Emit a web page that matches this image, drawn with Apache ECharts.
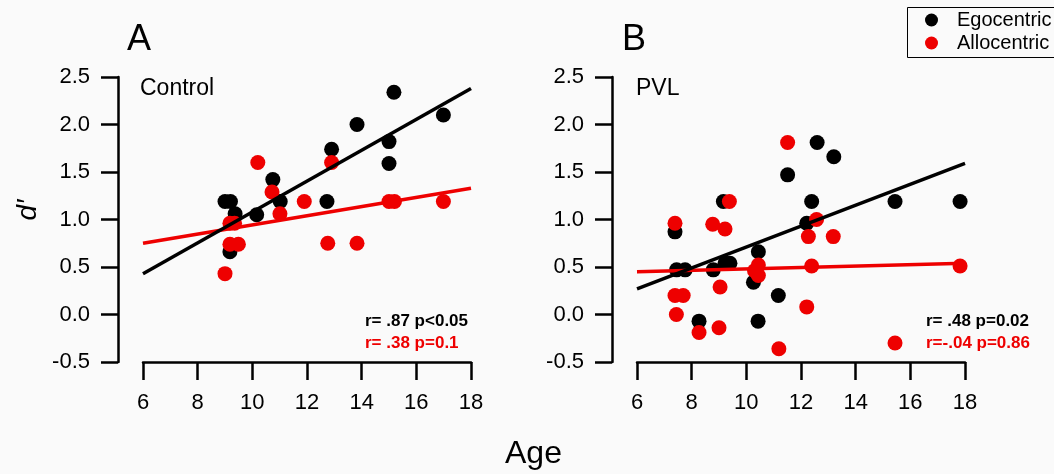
<!DOCTYPE html>
<html>
<head>
<meta charset="utf-8">
<script src="https://cdn.jsdelivr.net/npm/echarts@6/dist/echarts.min.js"></script>
<style>
  html, body { margin: 0; padding: 0; background: #fafafa; }
  #chart { width: 1054px; height: 474px; }
</style>
</head>
<body>
<div id="chart"></div>
<script>
// axis ticks
var ageTicks = [6, 8, 10, 12, 14, 16, 18];
var dTicks = [-0.5, 0, 0.5, 1, 1.5, 2, 2.5];

// A: Control  [age, d']
var egoControl = [[9.0,1.19],[9.2,1.19],[9.37,1.06],[9.18,0.66],[10.16,1.05],[10.75,1.42],[11.02,1.19],
  [12.73,1.19],[12.9,1.74],[13.83,2.0],[15.0,1.82],[15.0,1.59],[15.18,2.34],[16.99,2.10]];
var alloControl = [[9.0,0.43],[9.18,0.96],[9.35,0.96],[9.18,0.74],[9.49,0.74],[10.2,1.60],[10.72,1.29],
  [11.01,1.06],[11.9,1.19],[12.9,1.60],[12.76,0.75],[13.83,0.75],[15.0,1.19],[15.2,1.19],[16.99,1.19]];
var egoFitControl = [[6, 0.43], [18, 2.38]];
var alloFitControl = [[6, 0.75], [18, 1.33]];

// B: PVL
var egoPVL = [[7.39,0.87],[7.45,0.47],[7.76,0.47],[8.27,-0.07],[8.79,0.47],[9.16,1.19],[9.22,0.54],[9.40,0.54],
  [10.26,0.34],[10.44,0.66],[10.43,-0.07],[11.17,0.20],[11.51,1.47],[12.21,0.96],[12.39,1.19],[12.59,1.81],
  [13.2,1.66],[15.44,1.19],[17.82,1.19]];
var alloPVL = [[7.39,0.96],[7.39,0.20],[7.69,0.20],[7.44,0.0],[8.27,-0.19],[8.77,0.95],[9.22,0.90],[9.38,1.19],
  [9.04,0.29],[9.0,-0.14],[10.44,0.52],[10.44,0.41],[10.30,0.46],[11.19,-0.36],[11.51,1.81],[12.21,0.08],
  [12.27,0.82],[12.57,1.0],[12.39,0.51],[13.18,0.82],[15.44,-0.30],[17.82,0.51]];
var egoFitPVL = [[6, 0.27], [18, 1.59]];
var alloFitPVL = [[6, 0.45], [18, 0.54]];

var BLACK = '#000000';
var RED = '#ee0000';
var FONT = 'Liberation Sans, Arial, sans-serif';

var myChart = echarts.init(document.getElementById('chart'));

function xAxisFor(gridIndex) {
  return {
    gridIndex: gridIndex,
    type: 'value',
    min: ageTicks[0],
    max: ageTicks[ageTicks.length - 1],
    interval: 2,
    axisLine: { show: true, onZero: false, lineStyle: { color: BLACK, width: 2.5 } },
    axisTick: { show: true, inside: false, length: 18, lineStyle: { color: BLACK, width: 2.5 } },
    axisLabel: { color: BLACK, fontSize: 22, fontFamily: FONT, margin: 30 },
    splitLine: { show: false }
  };
}

function yAxisFor(gridIndex) {
  return {
    gridIndex: gridIndex,
    type: 'value',
    min: dTicks[0],
    max: dTicks[dTicks.length - 1],
    interval: 0.5,
    offset: 25,
    axisLine: { show: true, onZero: false, lineStyle: { color: BLACK, width: 2.5 } },
    axisTick: { show: true, inside: false, length: 17, lineStyle: { color: BLACK, width: 2.5 } },
    axisLabel: {
      color: BLACK, fontSize: 22, fontFamily: FONT, margin: 28,
      formatter: function (v) { return v.toFixed(1); }
    },
    splitLine: { show: false }
  };
}

function dots(name, data, color, idx) {
  return {
    name: name, type: 'scatter', xAxisIndex: idx, yAxisIndex: idx,
    data: data, symbolSize: 15, itemStyle: { color: color, opacity: 1 }, z: 2
  };
}

function fit(data, color, idx) {
  return {
    name: 'fit', type: 'line', xAxisIndex: idx, yAxisIndex: idx,
    data: data, symbol: 'none', lineStyle: { color: color, width: 3.5 },
    z: color === BLACK ? 4 : 3, silent: true
  };
}

function label(text, x, y, size, color, weight) {
  return {
    type: 'text', left: x, top: y, z: 10,
    style: { text: text, fill: color, fontSize: size, fontFamily: FONT, fontWeight: weight || 'normal' }
  };
}

myChart.setOption({
  backgroundColor: '#fafafa',
  animation: false,
  grid: [
    { left: 143, top: 77, width: 328, height: 285 },
    { left: 637, top: 77, width: 328, height: 285 }
  ],
  xAxis: [xAxisFor(0), xAxisFor(1)],
  yAxis: [yAxisFor(0), yAxisFor(1)],
  legend: {
    data: ['Egocentric', 'Allocentric'],
    orient: 'vertical',
    left: 925, top: 10,
    padding: 0,
    itemGap: 3,
    itemWidth: 13, itemHeight: 13,
    icon: 'circle',
    textStyle: { color: BLACK, fontSize: 20, fontFamily: FONT, padding: [0, 0, 0, 14] }
  },
  series: [
    dots('Egocentric', egoControl, BLACK, 0),
    dots('Allocentric', alloControl, RED, 0),
    fit(alloFitControl, RED, 0),
    fit(egoFitControl, BLACK, 0),
    dots('Egocentric', egoPVL, BLACK, 1),
    dots('Allocentric', alloPVL, RED, 1),
    fit(alloFitPVL, RED, 1),
    fit(egoFitPVL, BLACK, 1)
  ],
  graphic: [
    {
      type: 'rect', z: 9,
      shape: { x: 907.5, y: 7.5, width: 160, height: 50 },
      style: { fill: 'none', stroke: BLACK, lineWidth: 1 }
    },
    label('A', 127, 22, 36, BLACK),
    label('B', 622, 22, 36, BLACK),
    label('Control', 140, 77, 23, BLACK),
    label('PVL', 636, 77, 23, BLACK),
    label('r= .87 p<0.05', 365, 313, 17, BLACK, 'bold'),
    label('r= .38 p=0.1', 365, 335, 17, RED, 'bold'),
    label('r= .48 p=0.02', 926, 313, 17, BLACK, 'bold'),
    label('r=-.04 p=0.86', 926, 335, 17, RED, 'bold'),
    {
      type: 'text', x: 28, y: 210, rotation: Math.PI / 2, z: 10,
      style: {
        text: 'd\u2032', fill: BLACK, fontSize: 28, fontStyle: 'italic', fontFamily: FONT,
        align: 'center', verticalAlign: 'middle'
      }
    },
    label('Age', 505, 438, 32, BLACK)
  ]
});
</script>
</body>
</html>
